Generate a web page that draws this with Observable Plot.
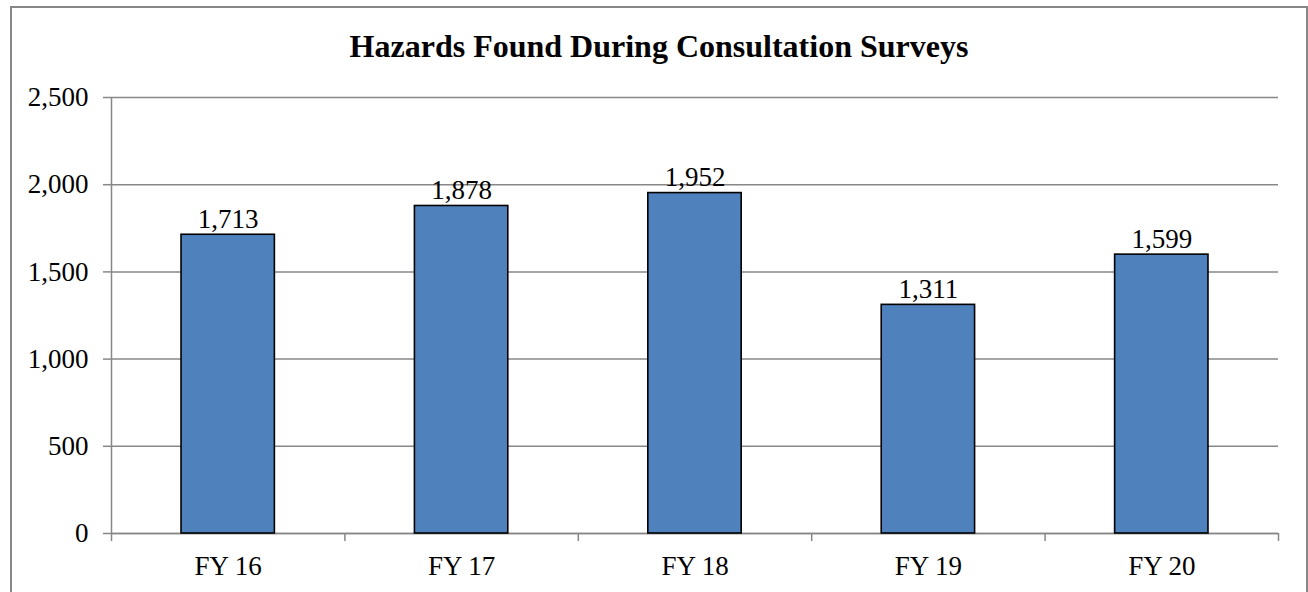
<!DOCTYPE html>
<html>
<head>
<meta charset="utf-8">
<script src="https://cdn.jsdelivr.net/npm/d3@7"></script>
<script src="https://cdn.jsdelivr.net/npm/@observablehq/plot@0.6"></script>
<style>
  html, body { margin: 0; padding: 0; background: #fff; overflow: hidden; }
  #wrap { position: relative; width: 1308px; height: 592px; }
  #border { position: absolute; left: 10px; top: 6px; width: 1294px; height: 600px; border: 2px solid #878787; box-sizing: content-box; }
  #title { position: absolute; left: 10px; width: 1298px; top: 26px; text-align: center;
           font-family: "Liberation Serif", "Times New Roman", serif; font-weight: bold; font-size: 32px; line-height: 40px; color: #000; }
  #chart { position: absolute; left: 0; top: 0; }
</style>
</head>
<body>
<div id="wrap">
  <div id="border"></div>
  <div id="title">Hazards Found During Consultation Surveys</div>
  <div id="chart"></div>
</div>
<script>
const categories = ["FY 16", "FY 17", "FY 18", "FY 19", "FY 20"];
const values = [1713, 1878, 1952, 1311, 1599];
const yTicks = [0, 500, 1000, 1500, 2000, 2500];

const data = categories.map((c, i) => ({i, category: c, value: values[i]}));
const indices = categories.map((c, i) => i);
const boundaries = categories.map((c, i) => i - 0.5).concat([categories.length - 0.5]);
const gray = "#878787";
const fmt = d3.format(",");

const plot = Plot.plot({
  width: 1308,
  height: 592,
  marginLeft: 111,
  marginRight: 30,
  marginTop: 97,
  marginBottom: 59,
  style: {fontFamily: "'Liberation Serif', 'Times New Roman', serif", fontSize: "27px", color: "#000", background: "transparent"},
  x: {type: "linear", domain: [-0.5, categories.length - 0.5]},
  y: {domain: [0, 2500]},
  marks: [
    Plot.gridY(yTicks, {stroke: gray, strokeOpacity: 1, strokeWidth: 1.5}),
    Plot.axisY({ticks: yTicks, tickSize: 8, tickPadding: 15, tickFormat: fmt, stroke: gray, strokeWidth: 1.5, fill: "#000", label: null}),
    Plot.ruleX([-0.5], {stroke: gray, strokeWidth: 1.5}),
    Plot.ruleY([0], {stroke: gray, strokeWidth: 1.5}),
    Plot.axisX({ticks: boundaries, tickSize: 8, tickFormat: () => "", stroke: gray, strokeWidth: 1.5, label: null}),
    Plot.axisX({ticks: indices, tickSize: 0, tickPadding: 22, tickFormat: i => categories[i], fill: "#000", label: null}),
    Plot.rectY(data, {x1: d => d.i - 0.2, x2: d => d.i + 0.2, y: "value", fill: "#4f81bd", stroke: "#000", strokeWidth: 1.6}),
    Plot.text(data, {x: "i", y: "value", text: d => fmt(d.value), lineAnchor: "bottom", dy: -7, fill: "#000", fontSize: 27})
  ]
});
document.getElementById("chart").appendChild(plot);
</script>
</body>
</html>
